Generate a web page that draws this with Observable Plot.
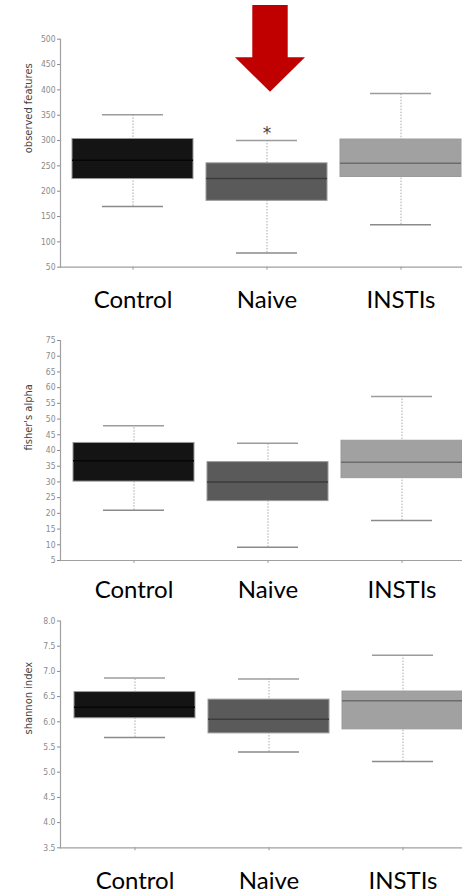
<!DOCTYPE html>
<html><head><meta charset="utf-8">
<script src="https://cdn.jsdelivr.net/npm/d3@7"></script>
<script src="https://cdn.jsdelivr.net/npm/@observablehq/plot@0.6"></script>
<style>
body{margin:0;background:#fff;}
#wrap{position:relative;width:462px;height:893px;overflow:hidden;background:#fff;}
#wrap svg{position:absolute;left:0;}
</style></head><body><div id="wrap"></div>
<script>
// ---- data ----
const groups = ["Control", "Naive", "INSTIs"];
const boxFills = ["#141414", "#5a5a5a", "#a1a1a1"];
const medianColors = ["#050505", "#3c3c3c", "#6c6c6c"];

// observed features
const obsMin    = [170, 78, 134];
const obsQ1     = [224, 181, 228];
const obsMedian = [261, 225, 255];
const obsQ3     = [303, 255, 302];
const obsMax    = [351, 300, 393];
const obsTicks  = [50, 100, 150, 200, 250, 300, 350, 400, 450, 500];
const obsNotes  = [{group: "Naive", value: 314, text: "*"}];

// fisher's alpha
const fisMin    = [21.0, 9.2, 17.7];
const fisQ1     = [30.1, 23.9, 31.2];
const fisMedian = [36.7, 30.0, 36.3];
const fisQ3     = [42.4, 36.3, 43.1];
const fisMax    = [47.9, 42.3, 57.2];
const fisTicks  = [5, 10, 15, 20, 25, 30, 35, 40, 45, 50, 55, 60, 65, 70, 75];

// shannon index
const shaMin    = [5.69, 5.40, 5.21];
const shaQ1     = [6.07, 5.77, 5.85];
const shaMedian = [6.29, 6.05, 6.42];
const shaQ3     = [6.59, 6.44, 6.60];
const shaMax    = [6.87, 6.85, 7.32];
const shaTicks  = [3.5, 4.0, 4.5, 5.0, 5.5, 6.0, 6.5, 7.0, 7.5, 8.0];

function stats(mn, q1, md, q3, mx) {
  return groups.map((g, i) => ({group: g, min: mn[i], q1: q1[i], median: md[i], q3: q3[i], max: mx[i],
    fill: boxFills[i], medianColor: medianColors[i]}));
}

const narrow = "'Liberation Sans Narrow', 'DejaVu Sans Condensed', 'Roboto Condensed', sans-serif";
const wrap = document.getElementById("wrap");

function panel({top, height, marginTop, marginBottom, domain, ticks, fmt, label, data, bandStart, labelPad, notes}) {
  const step = 134.3, pi = 0.097, po = (bandStart - 60) / step;
  const svg = Plot.plot({
    width: 462, height, marginTop, marginBottom, marginLeft: 60, marginRight: 0,
    style: {background: "transparent", fontFamily: narrow},
    x: {type: "band", domain: groups, range: [60, 60 + step * (3 - pi + 2 * po)], paddingInner: pi, paddingOuter: po},
    y: {domain},
    color: {type: "identity"},
    marks: [
      Plot.frame({anchor: "left", stroke: "#a0a0a0", strokeWidth: 1.2}),
      Plot.frame({anchor: "bottom", stroke: "#a0a0a0", strokeWidth: 1.2}),
      Plot.axisY({ticks, tickFormat: fmt, tickSize: 3, tickPadding: 2, fontSize: 8.5, color: "#8a8a8a", label: null}),
      Plot.axisX({tickSize: 3, tickFormat: () => "", color: "#9a9a9a", label: null}),
      Plot.axisX({tickSize: 0, tickPadding: labelPad, fontSize: 24, color: "#000", label: null,
        fontFamily: "Lato, 'Open Sans', sans-serif"}),
      Plot.text([label], {frameAnchor: "left", rotate: -90, dx: -32, fontSize: 11, fill: "#444", fontFamily: narrow}),
      Plot.ruleX(data, {x: "group", y1: "min", y2: "max", stroke: "#a8a8a8", strokeWidth: 1, strokeDasharray: "1.5,1.5"}),
      Plot.tickY(data, {x: "group", y: "max", stroke: "#9c9c9c", strokeWidth: 1.5, insetLeft: 30, insetRight: 30}),
      Plot.tickY(data, {x: "group", y: "min", stroke: "#8a8a8a", strokeWidth: 1.5, insetLeft: 30, insetRight: 30}),
      Plot.barY(data, {x: "group", y1: "q1", y2: "q3", fill: "fill", stroke: "#9a9a9a", strokeWidth: 1}),
      Plot.tickY(data, {x: "group", y: "median", stroke: "medianColor", strokeWidth: 1.5}),
      Plot.text(notes || [], {x: "group", y: "value", text: "text", fontSize: 17, fill: "#444", fontFamily: "DejaVu Sans"})
    ]
  });
  svg.style.top = top + "px";
  wrap.appendChild(svg);
}

panel({top: 0, height: 320, marginTop: 38.7, marginBottom: 53.3, domain: [50, 500], ticks: obsTicks, fmt: d3.format("d"),
  label: "observed features", data: stats(obsMin, obsQ1, obsMedian, obsQ3, obsMax), bandStart: 71.7, labelPad: 24, notes: obsNotes});
panel({top: 320, height: 290, marginTop: 20, marginBottom: 50, domain: [5, 75], ticks: fisTicks, fmt: d3.format("d"),
  label: "fisher's alpha", data: stats(fisMin, fisQ1, fisMedian, fisQ3, fisMax), bandStart: 72.3, labelPad: 20.5});
panel({top: 610, height: 283, marginTop: 10.5, marginBottom: 45.7, domain: [3.5, 8.0], ticks: shaTicks, fmt: d3.format(".1f"),
  label: "shannon index", data: stats(shaMin, shaQ1, shaMedian, shaQ3, shaMax), bandStart: 74, labelPad: 24});

// red annotation arrow pointing at the Naive group
const ns = "http://www.w3.org/2000/svg";
const arrow = document.createElementNS(ns, "svg");
arrow.setAttribute("width", 462); arrow.setAttribute("height", 100);
arrow.style.top = "0px";
const poly = document.createElementNS(ns, "polygon");
poly.setAttribute("points", "252.3,5 287.7,5 287.7,57.3 305,57.3 270,91.7 235,57.3 252.3,57.3");
poly.setAttribute("fill", "#c00000");
arrow.appendChild(poly);
wrap.appendChild(arrow);
</script></body></html>
